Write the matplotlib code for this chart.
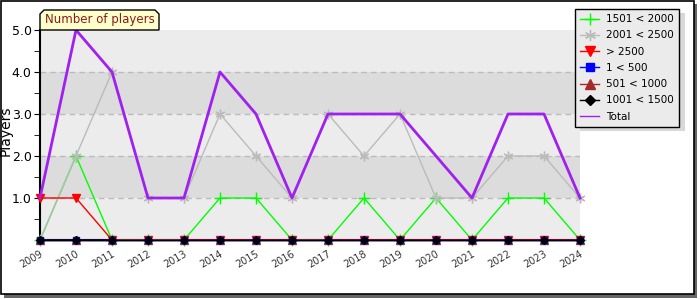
import matplotlib
matplotlib.use("Agg")
import matplotlib.pyplot as plt
from matplotlib.patches import Rectangle, Polygon
from matplotlib.lines import Line2D

years = [str(y) for y in range(2009, 2025)]
total = [1, 5, 4, 1, 1, 4, 3, 1, 3, 3, 3, 2, 1, 3, 3, 1]
r2001_2500 = [0, 2, 4, 1, 1, 3, 2, 1, 3, 2, 3, 1, 1, 2, 2, 1]
r1501_2000 = [0, 2, 0, 0, 0, 1, 1, 0, 0, 1, 0, 1, 0, 1, 1, 0]
over_2500 = [1, 1, 0, 0, 0, 0, 0, 0, 0, 0, 0, 0, 0, 0, 0, 0]
r1_500 = [0] * 16
r501_1000 = [0] * 16
r1001_1500 = [0] * 16

W, H = 700, 300
fig = plt.figure(figsize=(7, 3), dpi=100)
fig.patch.set_facecolor("white")

def fx(px):
    return px / W

def fy(py):
    return 1 - py / H

# outer frame with shadow (behind the axes)
fig.patches.append(Rectangle((fx(4), fy(298)), fx(693), 294 / H, transform=fig.transFigure,
                             facecolor="#666666", edgecolor="none", zorder=-3))
fig.patches.append(Rectangle((fx(0.5), fy(294)), fx(693), 293.5 / H, transform=fig.transFigure,
                             facecolor="white", edgecolor="black", linewidth=1.2, zorder=-2))

ax = fig.add_axes([fx(40), fy(240), fx(540), 210 / H])
ax.patch.set_alpha(0)
x = list(range(len(years)))

# background bands
for lo in range(5):
    ax.axhspan(lo, lo + 1, color="#dcdcdc" if lo % 2 == 1 else "#ececec", zorder=0, linewidth=0)
for yv in [1, 2, 3, 4]:
    ax.axhline(yv, color="#bbbbbb", linestyle=(0, (4, 3)), linewidth=1, zorder=1)

kw = dict(clip_on=False, linewidth=1)
ax.plot(x, r1501_2000, color="#00ff00", marker="+", markersize=8, markeredgewidth=1, zorder=3, **kw)
ax.plot(x, r2001_2500, color="#bbbbbb", marker=(6, 2, 0), markersize=7, markeredgewidth=1, zorder=3, **kw)
ax.plot(x, over_2500, color="red", marker="v", markersize=6, zorder=4, **kw)
ax.plot(x, r501_1000, color="#a52a2a", marker="^", markersize=6, zorder=4, **kw)
ax.plot(x, r1_500, color="blue", marker="s", markersize=5, zorder=5, **kw)
ax.plot(x, r1001_1500, color="black", marker="D", markersize=4, zorder=6, **kw)
ax.plot(x, total, color="#a020f0", linewidth=2, zorder=5, clip_on=False)

ax.set_xlim(0, len(years) - 1)
ax.set_ylim(0, 5)
ax.set_yticks([1, 2, 3, 4, 5])
ax.set_yticklabels(["1.0", "2.0", "3.0", "4.0", "5.0"], fontsize=9)
ax.set_yticks([0.5, 1.5, 2.5, 3.5, 4.5], minor=True)
ax.tick_params(axis="y", which="both", direction="out", length=4, pad=2)
ax.set_xticks(x)
ax.set_xticklabels(years, rotation=30, fontsize=7, color="#333333", ha="right", rotation_mode="anchor")
ax.tick_params(axis="x", length=0, pad=6)
for s in ["top", "right"]:
    ax.spines[s].set_visible(False)
ax.spines["left"].set_linewidth(1.5)
ax.spines["bottom"].set_linewidth(1.5)
ax.set_ylabel("Players", fontsize=10)
ax.yaxis.set_label_coords(-0.05, 0.52)

# title tab
tab = Polygon([(fx(40), fy(30)), (fx(40), fy(14)), (fx(44), fy(10)), (fx(155), fy(10)),
               (fx(159), fy(14)), (fx(159), fy(30))], closed=True, transform=fig.transFigure,
              facecolor="#ffffcc", edgecolor="black", linewidth=1)
fig.patches.append(tab)
fig.text(fx(99.5), fy(20), "Number of players", ha="center", va="center", fontsize=8.5, color="#8b1a1a")

# legend with shadow
fig.patches.append(Rectangle((fx(580), fy(131)), fx(105), 118 / H, transform=fig.transFigure,
                             facecolor="#d8d8d8", edgecolor="none", zorder=10))
handles = [
    Line2D([], [], color="#00ff00", marker="+", markersize=9, linewidth=1),
    Line2D([], [], color="#bbbbbb", marker=(6, 2, 0), markersize=8, linewidth=1),
    Line2D([], [], color="red", marker="v", markersize=7, linewidth=1),
    Line2D([], [], color="blue", marker="s", markersize=6, linewidth=1),
    Line2D([], [], color="#a52a2a", marker="^", markersize=7, linewidth=1),
    Line2D([], [], color="black", marker="D", markersize=5, linewidth=1),
    Line2D([], [], color="#a020f0", linewidth=1),
]
labels = ["1501 < 2000", "2001 < 2500", "> 2500", "1 < 500", "501 < 1000", "1001 < 1500", "Total"]
leg = fig.legend(handles, labels, loc="upper left", bbox_to_anchor=(fx(575), fy(9)),
                 fontsize=7.5, frameon=True, fancybox=False, handlelength=1.8, handletextpad=0.7,
                 borderpad=0.5, labelspacing=0.6, borderaxespad=0)
leg.get_frame().set_facecolor("#ebebeb")
leg.get_frame().set_edgecolor("black")
leg.get_frame().set_alpha(1)
leg.set_zorder(11)

fig.savefig("out.png", dpi=100)
